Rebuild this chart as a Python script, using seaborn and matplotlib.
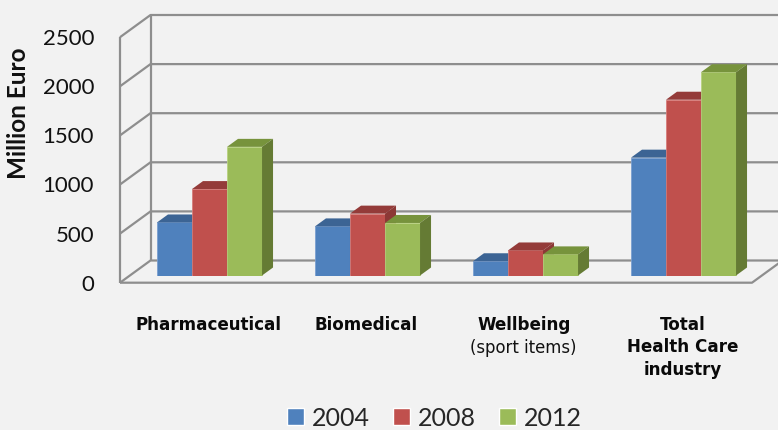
import numpy as np
import pandas as pd
import matplotlib
matplotlib.use("Agg")
import matplotlib.pyplot as plt
import matplotlib.transforms as mtransforms
from matplotlib.patches import Polygon, Patch
from matplotlib.lines import Line2D
import seaborn as sns

# data
sectors = ["Pharmaceutical", "Biomedical", "Wellbeing", "Total\nHealth Care\nindustry"]
years = ["2004", "2008", "2012"]
val_2004 = [540, 500, 145, 1200]
val_2008 = [880, 630, 255, 1790]
val_2012 = [1310, 535, 215, 2070]
y_ticks = [0, 500, 1000, 1500, 2000, 2500]

front_cols = ["#4F81BD", "#C0504D", "#9BBB59"]
top_cols = ["#3C6494", "#943B39", "#77933C"]
side_cols = ["#385D8A", "#8C3836", "#657B34"]
edge_cols = ["#7A9FD0", "#D77D7A", "#B8D27F"]
bg = "#F2F2F2"
grid_col = "#8E8E8E"

df = pd.DataFrame({
    "sector": sectors * 3,
    "year": np.repeat(years, len(sectors)),
    "value": val_2004 + val_2008 + val_2012,
})

sns.set_style("white")
plt.rcParams["font.family"] = ["Lato", "DejaVu Sans"]

W, H = 778, 430
fig = plt.figure(figsize=(W / 100, H / 100), dpi=100, facecolor=bg)
ax = fig.add_axes([130.5 / W, 154.5 / H, 632 / W, 245.5 / H])
sns.barplot(data=df, x="sector", y="value", hue="year", palette=front_cols,
            width=0.665, gap=0, saturation=1, linewidth=0, legend=False, ax=ax)
ax.set_xlim(-0.5, 3.5)
ax.set_ylim(0, 2500)
ax.set_axis_off()

ident = mtransforms.IdentityTransform()
FRONT = (-10.5, -7.2)   # pixel shift of the front edge of the floor
BACK = (20, 15)         # pixel shift of the back wall
DEPTH = (11, 8)         # pixel depth of each bar


def to_px(x, y, off=(0, 0)):
    px, py = ax.transData.transform((x, y))
    return px + off[0], py + off[1]


def wall_line(points):
    xs, ys = zip(*points)
    ax.add_line(Line2D(xs, ys, transform=ident, color=grid_col, lw=1.6,
                       clip_on=False, zorder=0.5, solid_capstyle="butt"))


xl, xr = -0.5, 3.5
for v in y_ticks:
    wall_line([to_px(xl, v, FRONT), to_px(xl, v, BACK), to_px(xr + 0.2, v, BACK)])
wall_line([to_px(xl, 0, FRONT), to_px(xl, 2500, FRONT)])
wall_line([to_px(xl, 0, BACK), to_px(xl, 2500, BACK)])
wall_line([to_px(xl, 0, FRONT), to_px(xr, 0, FRONT), to_px(xr, 0, BACK)])

# fake 3D: top and side faces for every bar, drawn left to right
bars = list(ax.patches)
order = np.argsort([b.get_x() for b in bars])
for rank, i in enumerate(order):
    b = bars[i]
    k = i // len(sectors)
    x0, x1, h = b.get_x(), b.get_x() + b.get_width(), b.get_height()
    base = 2 + rank
    b.set_zorder(base)
    b.set_edgecolor(edge_cols[k])
    b.set_linewidth(0.6)
    top = [to_px(x0, h), to_px(x1, h), to_px(x1, h, DEPTH), to_px(x0, h, DEPTH)]
    side = [to_px(x1, 0), to_px(x1, 0, DEPTH), to_px(x1, h, DEPTH), to_px(x1, h)]
    ax.add_patch(Polygon(top, closed=True, transform=ident, facecolor=top_cols[k],
                         edgecolor="none", clip_on=False, zorder=base + 0.1))
    ax.add_patch(Polygon(side, closed=True, transform=ident, facecolor=side_cols[k],
                         edgecolor="none", clip_on=False, zorder=base + 0.2))

# y tick labels on the front edge of the left wall
for v in y_ticks:
    fx, fy = to_px(xl, v, FRONT)
    fig.text(fx - 26, fy - 2, str(v), transform=ident, ha="right", va="center",
             fontsize=16, color="#111111")

fig.text(18.5 / W, 1 - 113 / H, "Million Euro", rotation=90, ha="center",
         va="center", fontsize=17.5, fontweight="bold", color="#111111")

# category labels
for i, name in enumerate(sectors):
    cx, _ = to_px(i, 0)
    fig.text(cx - 1, 430 - 316, name, transform=ident, ha="center", va="top",
             fontsize=12.1, fontweight="bold", family="DejaVu Sans",
             linespacing=1.32, color="#0A0A0A")
cx, _ = to_px(2, 0)
fig.text(cx - 2, 430 - 339, "(sport items)", transform=ident, ha="center",
         va="top", fontsize=11.9, family="DejaVu Sans", color="#111111")

handles = [Patch(facecolor=c, label=y) for c, y in zip(front_cols, years)]
fig.legend(handles=handles, loc="center", bbox_to_anchor=(434.5 / W, 12 / H),
           ncol=3, frameon=False, fontsize=18, handlelength=0.67,
           handleheight=0.67, handletextpad=0.3, columnspacing=0.95,
           borderpad=0, borderaxespad=0)

fig.savefig("out.png", dpi=100, facecolor=bg)
